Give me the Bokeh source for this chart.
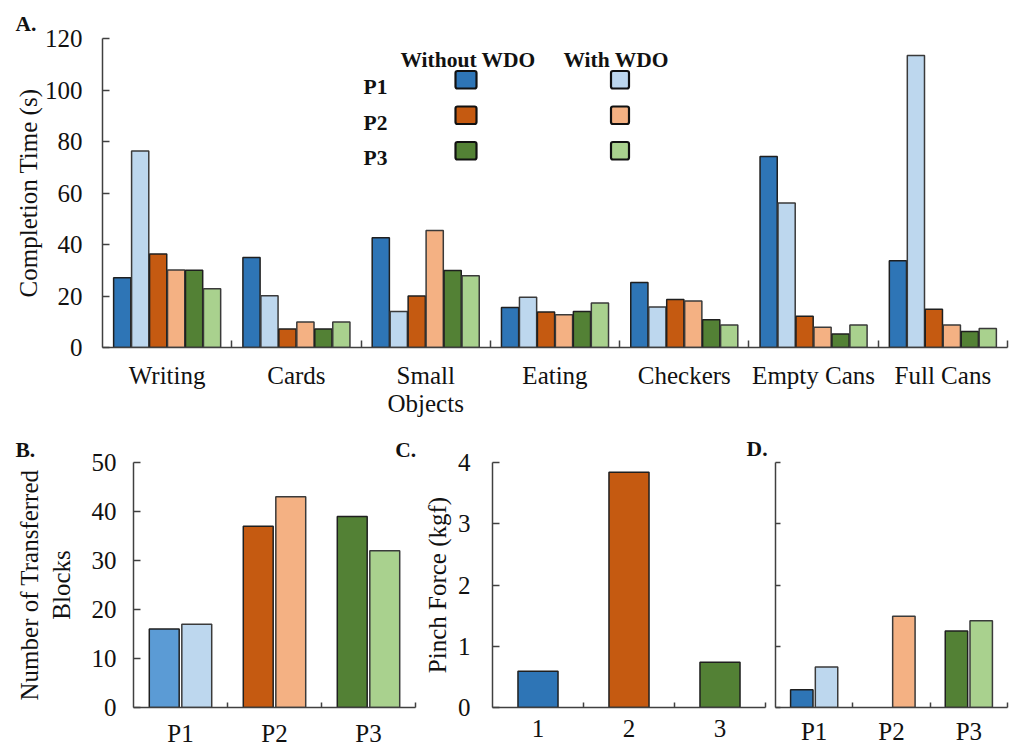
from bokeh.plotting import figure
from bokeh.layouts import column, row
from bokeh.models import Range1d, FixedTicker, Label, BoxAnnotation, ColumnDataSource
from bokeh.transform import dodge
from bokeh.embed import file_html
from bokeh.resources import INLINE

nan = float("nan")

# ---------------- data ----------------
tasks = ["Writing", "Cards", "Small\nObjects", "Eating", "Checkers", "Empty Cans", "Full Cans"]
p1_without = [27.1, 35.0, 42.6, 15.5, 25.2, 74.2, 33.7]
p1_with = [76.3, 20.1, 14.0, 19.5, 15.7, 56.1, 113.4]
p2_without = [36.3, 7.2, 20.0, 13.8, 18.6, 12.1, 14.9]
p2_with = [30.1, 9.9, 45.4, 12.7, 18.1, 7.9, 8.7]
p3_without = [30.0, 7.2, 29.9, 14.0, 10.8, 5.2, 6.2]
p3_with = [22.8, 9.9, 27.9, 17.3, 8.7, 8.7, 7.4]
a_ticks = [0, 20, 40, 60, 80, 100, 120]

participants = ["P1", "P2", "P3"]
blocks_without = [16, 37, 39]
blocks_with = [17, 43, 32]
b_ticks = [0, 10, 20, 30, 40, 50]

pinch_labels = ["1", "2", "3"]
pinch_force = [0.59, 3.84, 0.74]
c_ticks = [0, 1, 2, 3, 4]

d_without = [0.29, nan, 1.25]
d_with = [0.66, 1.49, 1.415]
d_ticks = [0, 1, 2, 3, 4]

# ---------------- styles ----------------
FONT = "Liberation Serif"
FS = "25px"
AX = "#404040"
TXT = "#111111"
C_P1, C_P1L, C_P1B = "#2E75B6", "#BDD7EE", "#5B9BD5"
C_P2, C_P2L = "#C55A11", "#F4B183"
C_P3, C_P3L = "#538135", "#A9D18E"
DARK_EDGE, LIGHT_EDGE = "#1f1f1f", "#3a3a3a"


def make_fig(w, h, xr, yr, bl, br, bt, bb):
    p = figure(width=w, height=h, x_range=xr, y_range=yr, output_backend="svg",
               toolbar_location=None, min_border_left=bl, min_border_right=br,
               min_border_top=bt, min_border_bottom=bb)
    p.outline_line_color = None
    p.xgrid.grid_line_color = None
    p.ygrid.grid_line_color = None
    p.background_fill_color = "white"
    p.border_fill_color = "white"
    return p


def style_axes(p, n, labels, yticks, xstand, ystand, xtick_len=7, show_ylabels=True):
    centers = list(range(n))
    bounds = [i + 0.5 for i in range(n)]
    xa = p.xaxis[0]
    xa.ticker = FixedTicker(ticks=centers, minor_ticks=bounds)
    xa.major_label_overrides = {i: t for i, t in enumerate(labels)}
    xa.major_tick_line_color = None
    xa.major_tick_out = 0
    xa.major_tick_in = 0
    xa.minor_tick_in = xtick_len
    xa.minor_tick_out = 0
    xa.minor_tick_line_color = AX
    xa.minor_tick_line_width = 1.5
    xa.axis_line_color = AX
    xa.axis_line_width = 1.5
    xa.major_label_standoff = xstand
    xa.major_label_text_font = FONT
    xa.major_label_text_font_size = FS
    xa.major_label_text_color = TXT
    xa.major_label_text_line_height = 1.05

    ya = p.yaxis[0]
    if show_ylabels:
        ya.ticker = FixedTicker(ticks=yticks)
        ya.major_tick_in = 7
        ya.major_tick_out = 0
        ya.major_tick_line_color = AX
        ya.major_tick_line_width = 1.5
        ya.minor_tick_line_color = None
    else:
        # tick marks only, no tick labels
        ya.ticker = FixedTicker(ticks=[], minor_ticks=yticks)
        ya.major_tick_line_color = None
        ya.major_tick_in = 0
        ya.major_tick_out = 0
        ya.minor_tick_in = 5
        ya.minor_tick_out = 0
        ya.minor_tick_line_color = AX
        ya.minor_tick_line_width = 1.5
    ya.axis_line_color = AX
    ya.axis_line_width = 1.5
    ya.major_label_standoff = ystand
    ya.major_label_text_font = FONT
    ya.major_label_text_font_size = FS
    ya.major_label_text_color = TXT
    ya.axis_label_text_font = FONT
    ya.axis_label_text_font_size = FS
    ya.axis_label_text_font_style = "normal"
    ya.axis_label_text_color = TXT
    ya.axis_label_text_line_height = 1.15


def set_title(p, text, align, offset, standoff):
    p.title.text = text
    p.title.align = align
    p.title.offset = offset
    p.title.standoff = standoff
    p.title.text_font = FONT
    p.title.text_font_size = "21.5px"
    p.title.text_font_style = "bold"
    p.title.text_color = TXT


# ---------------- Panel A ----------------
pa = make_fig(1016, 420, Range1d(-0.5, 6.5), Range1d(0, 120), 102, 9, 38, 73)
style_axes(pa, 7, tasks, a_ticks, 14, 20)
pa.yaxis[0].axis_label = "Completion Time (s)"
pa.yaxis[0].axis_label_standoff = 0
set_title(pa, "A.", "left", -87, 5)

src_a = ColumnDataSource(dict(x=list(range(7)), p1n=p1_without, p1w=p1_with,
                              p2n=p2_without, p2w=p2_with, p3n=p3_without, p3w=p3_with))
step_a, bw_a = 0.139, 0.133
series_a = [("p1n", C_P1, DARK_EDGE), ("p1w", C_P1L, LIGHT_EDGE),
            ("p2n", C_P2, DARK_EDGE), ("p2w", C_P2L, LIGHT_EDGE),
            ("p3n", C_P3, DARK_EDGE), ("p3w", C_P3L, LIGHT_EDGE)]
for k, (col, fc, lc) in enumerate(series_a):
    off = (k - 2.5) * step_a
    pa.vbar(x=dodge("x", off, range=pa.x_range), top=col, width=bw_a, bottom=0,
            source=src_a, fill_color=fc, line_color=lc, line_width=1.5)

# legend (frame-relative screen coordinates)
leg_font = dict(text_font=FONT, text_font_size="21.5px", text_font_style="bold",
                text_color=TXT, text_baseline="alphabetic")
pa.add_layout(Label(x=298, y=288, x_units="screen", y_units="screen", text="Without WDO", **leg_font))
pa.add_layout(Label(x=461, y=288, x_units="screen", y_units="screen", text="With WDO", **leg_font))
leg_rows = [("P1", C_P1, C_P1L), ("P2", C_P2, C_P2L), ("P3", C_P3, C_P3L)]
for r, (name, c_dark, c_light) in enumerate(leg_rows):
    base = 260.5 - 35.5 * r
    pa.add_layout(Label(x=261, y=base, x_units="screen", y_units="screen", text=name, **leg_font))
    for (lx, rx, col) in [(353, 374, c_dark), (508.5, 526.5, c_light)]:
        pa.add_layout(BoxAnnotation(left=lx, right=rx, bottom=base - 1.5, top=base + 16,
                                    left_units="screen", right_units="screen",
                                    top_units="screen", bottom_units="screen",
                                    fill_color=col, fill_alpha=1.0, line_color=TXT,
                                    line_width=2.2, line_alpha=1.0, border_radius=2))

# ---------------- Panel B ----------------
H = 329
pb = make_fig(420, H, Range1d(-0.5, 2.5), Range1d(0, 50), 133, 5, 42, H - 42 - 247)
style_axes(pb, 3, participants, b_ticks, 12, 17, xtick_len=5)
pb.yaxis[0].axis_label = "Number of Transferred\nBlocks"
pb.yaxis[0].axis_label_standoff = 14
set_title(pb, "B." + "\u00a0" * 67 + "C.", "left", -118, 1)
src_b = ColumnDataSource(dict(x=list(range(3)), n=blocks_without, w=blocks_with,
                              cn=[C_P1B, C_P2, C_P3], cw=[C_P1L, C_P2L, C_P3L]))
pb.vbar(x=dodge("x", -0.173, range=pb.x_range), top="n", width=0.318, source=src_b,
        fill_color="cn", line_color=DARK_EDGE, line_width=1.5)
pb.vbar(x=dodge("x", 0.173, range=pb.x_range), top="w", width=0.318, source=src_b,
        fill_color="cw", line_color=LIGHT_EDGE, line_width=1.5)

# ---------------- Panel C ----------------
pc = make_fig(348, H, Range1d(-0.5, 2.5), Range1d(0, 4), 72, 3, 40, H - 40 - 249)
style_axes(pc, 3, pinch_labels, c_ticks, 12, 22, xtick_len=5)
pc.yaxis[0].axis_label = "Pinch Force (kgf)"
pc.yaxis[0].axis_label_standoff = 4
set_title(pc, "D.", "right", -2, 3)
src_c = ColumnDataSource(dict(x=list(range(3)), f=pinch_force, c=[C_P1, C_P2, C_P3]))
pc.vbar(x="x", top="f", width=0.44, source=src_c, fill_color="c",
        line_color=DARK_EDGE, line_width=1.5)

# ---------------- Panel D ----------------
pd_ = make_fig(248, H, Range1d(-0.5, 2.5), Range1d(0, 4), 7, 9, 37, H - 37 - 254)
style_axes(pd_, 3, participants, d_ticks, 10, 0, xtick_len=5, show_ylabels=False)
pd_.title.visible = False
src_d = ColumnDataSource(dict(x=list(range(3)), n=d_without, w=d_with,
                              cn=[C_P1, C_P2, C_P3], cw=[C_P1L, C_P2L, C_P3L]))
pd_.vbar(x=dodge("x", -0.16, range=pd_.x_range), top="n", width=0.29, source=src_d,
         fill_color="cn", line_color=DARK_EDGE, line_width=1.5)
pd_.vbar(x=dodge("x", 0.16, range=pd_.x_range), top="w", width=0.29, source=src_d,
         fill_color="cw", line_color=LIGHT_EDGE, line_width=1.5)

layout = column(pa, row(pb, pc, pd_, spacing=0), spacing=0)
open("out.html", "w").write(file_html(layout, INLINE))
